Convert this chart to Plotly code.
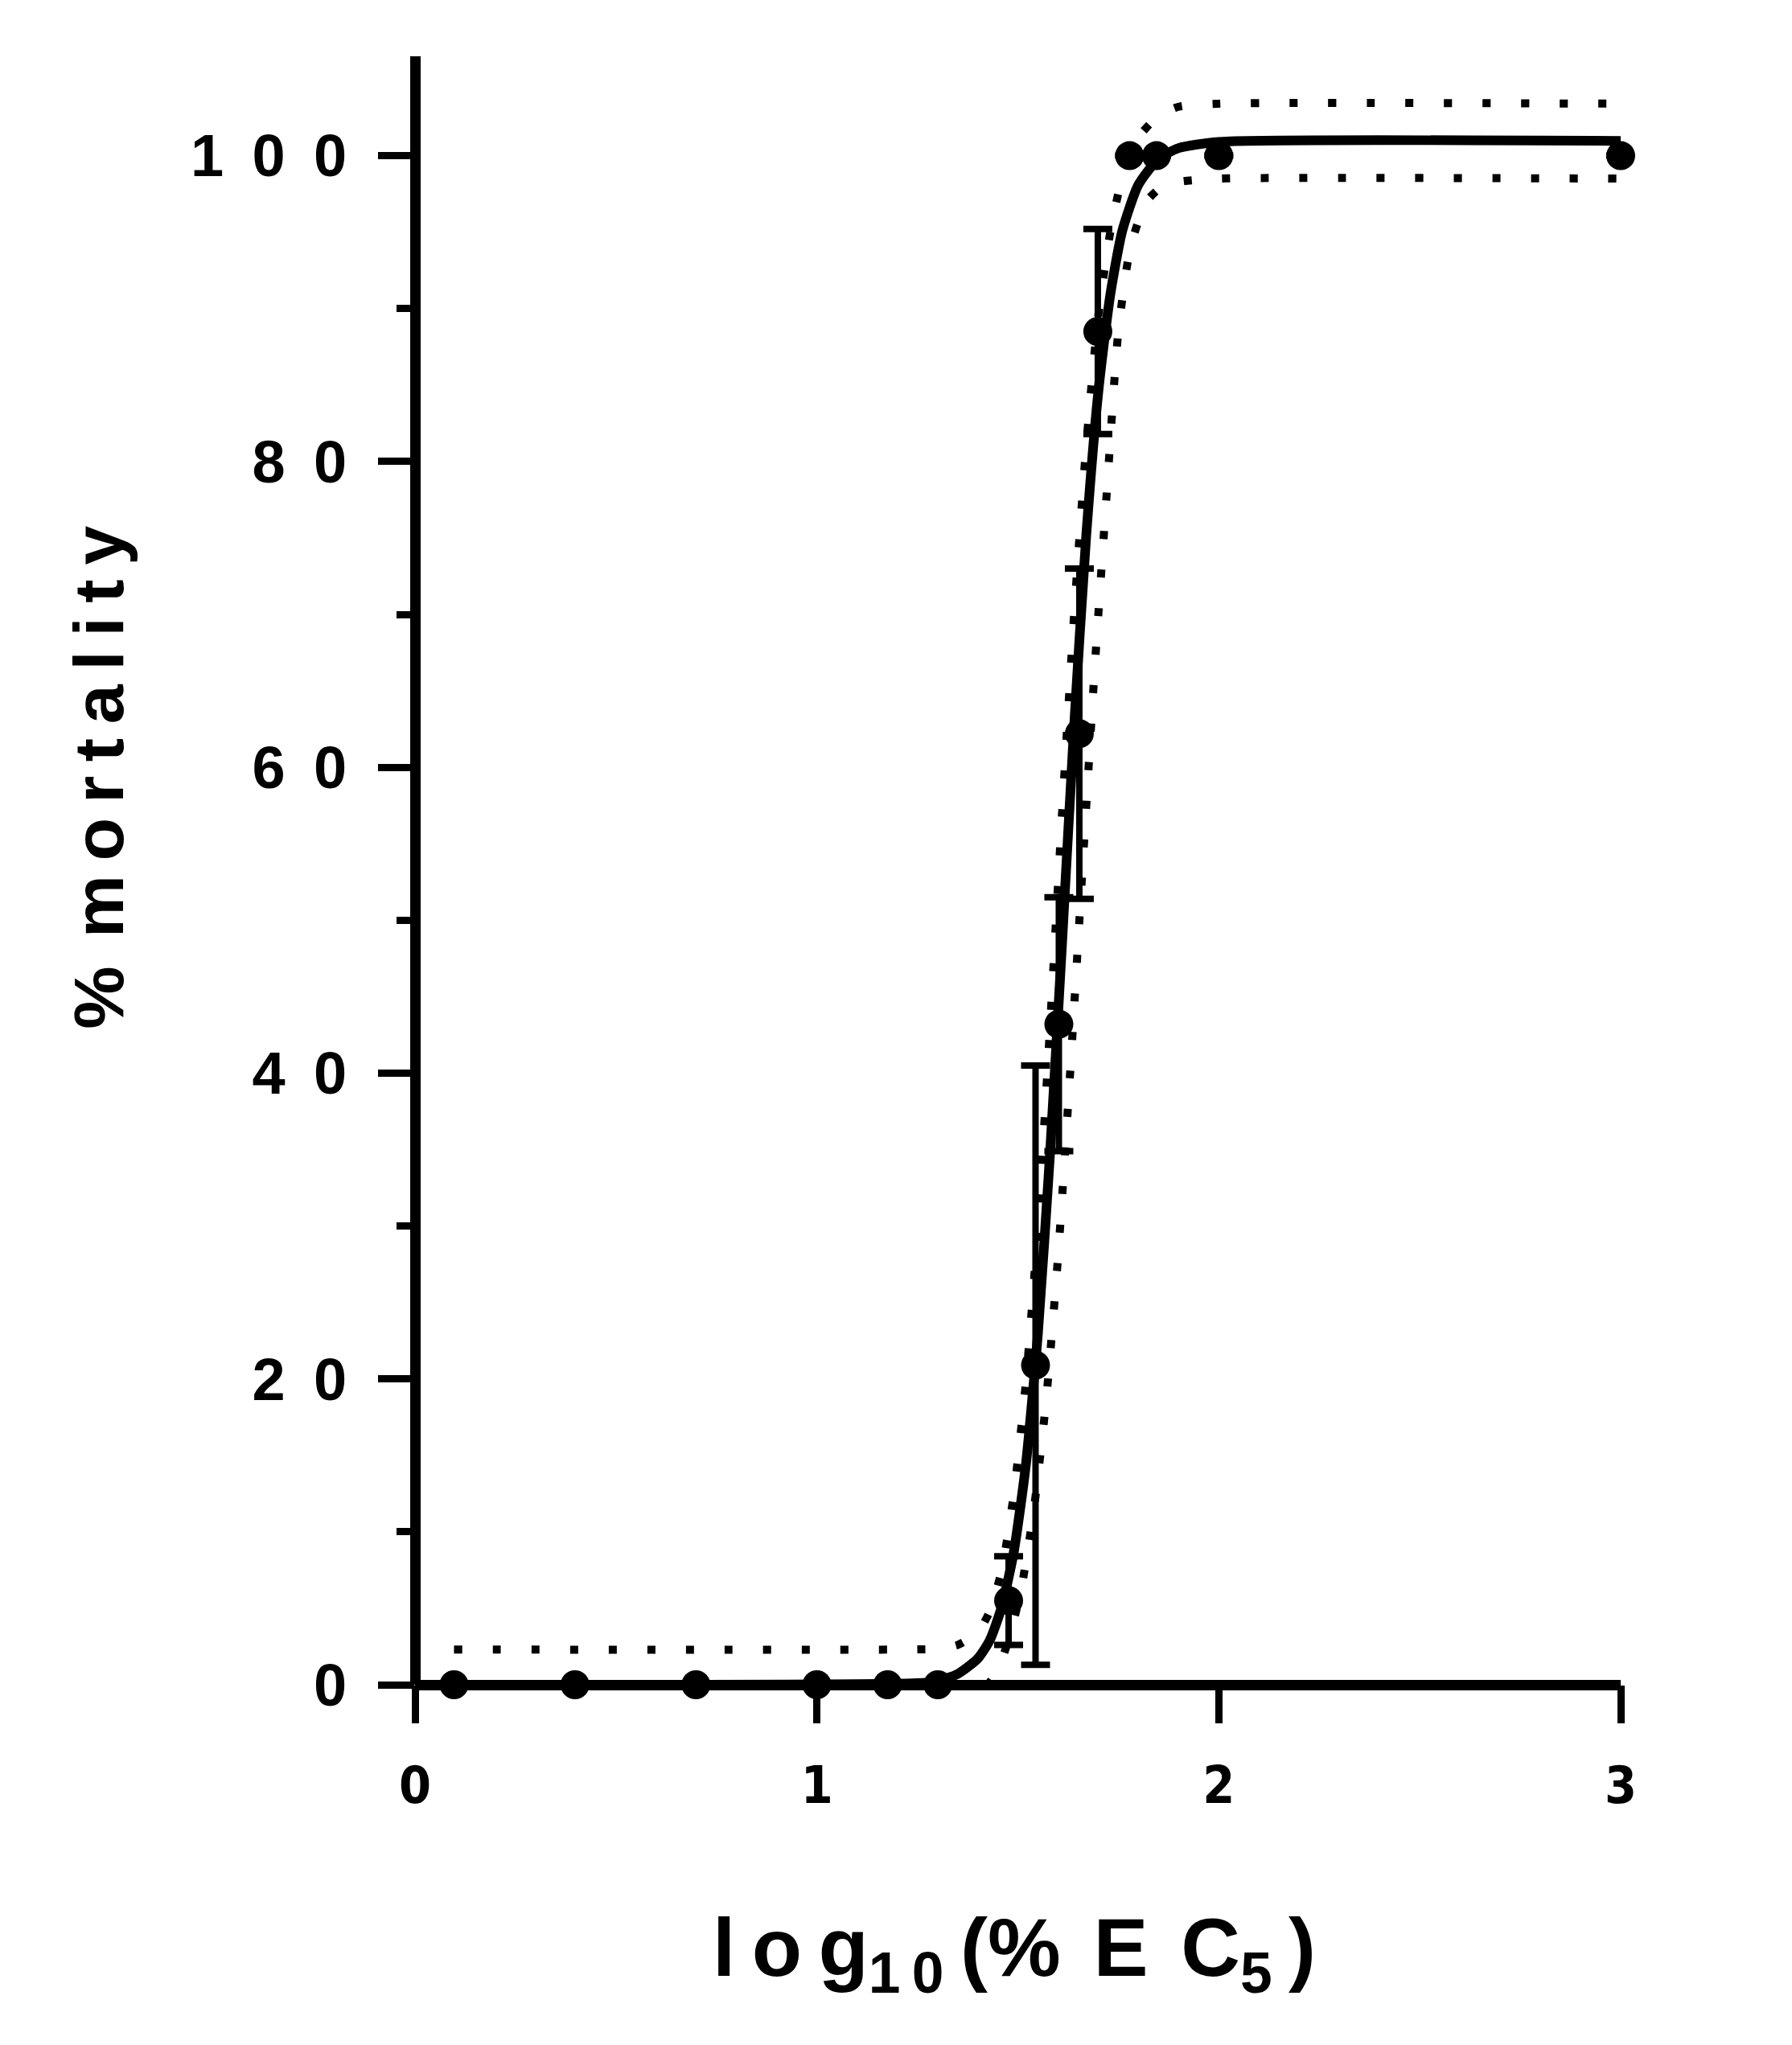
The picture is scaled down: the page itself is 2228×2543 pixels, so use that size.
import plotly.graph_objects as go

# Dose-response data, x = log10(% EC5), y = % mortality (mean +/- SD)
log_dose = [0.097, 0.398, 0.699, 1.0, 1.176, 1.301, 1.477, 1.544, 1.602, 1.653, 1.699, 1.778, 1.845, 2.0, 3.0]
mortality = [0, 0, 0, 0, 0, 0, 5.5, 20.9, 43.2, 62.2, 88.5, 100, 100, 100, 100]
mortality_err = [None, None, None, None, None, None, 2.9, 19.6, 8.3, 10.8, 6.7, None, None, None, None]

# fitted sigmoid
fit_x = [0.097, 1.25, 1.30, 1.35, 1.40, 1.43, 1.46, 1.49, 1.52, 1.55, 1.58, 1.61, 1.64,
         1.67, 1.70, 1.73, 1.76, 1.80, 1.85, 1.90, 2.0, 3.0]
fit_y = [0, 0.1, 0.25, 0.7, 1.7, 2.9, 5.1, 8.7, 14.4, 23.0, 34.7, 48.5, 62.7,
         75.1, 84.5, 90.9, 95.1, 98.1, 99.8, 100.5, 100.9, 100.96]

# 95% confidence band (dotted)
upper_x = [0.097, 1.20, 1.30, 1.35, 1.40, 1.43, 1.46, 1.49, 1.52, 1.55, 1.58, 1.61, 1.64,
           1.67, 1.70, 1.73, 1.76, 1.80, 1.85, 1.90, 2.0, 3.0]
upper_y = [2.3, 2.3, 2.35, 2.6, 3.4, 4.8, 7.5, 12.5, 19.8, 30.0, 43.0, 57.0, 70.0,
           81.0, 89.5, 95.0, 98.6, 101.2, 102.6, 103.2, 103.4, 103.4]
lower_x = [0.097, 1.30, 1.40, 1.45, 1.48, 1.51, 1.54, 1.57, 1.60, 1.63, 1.66, 1.69,
           1.72, 1.75, 1.78, 1.82, 1.86, 1.904, 2.0, 3.0]
lower_y = [-2.0, -1.8, -0.8, 1.0, 3.2, 6.5, 11.5, 18.5, 28.0, 40.0, 53.0, 66.0,
           77.5, 88.5, 94.0, 97.0, 98.0, 98.3, 98.5, 98.5]

x_tick_vals = [0, 1, 2, 3]
x_tick_text = ["0", "1", "2", "3"]
y_tick_vals = [0, 20, 40, 60, 80, 100]
y_tick_text = ["0", "2\u00a0\u20090", "4\u00a0\u20090", "6\u00a0\u20090", "8\u00a0\u20090",
               "1\u00a0\u20090\u00a0\u20090"]

FONT = "Liberation Sans, Arial, sans-serif"
NARROW = "DejaVu Sans Condensed, Liberation Sans Narrow, Arial Narrow, sans-serif"

fig = go.Figure()

band_style = dict(color="black", width=10, dash="10px,38px")
fig.add_trace(go.Scatter(x=upper_x, y=upper_y, mode="lines", line=dict(shape="spline", smoothing=0.6, **band_style)))
fig.add_trace(go.Scatter(x=lower_x, y=lower_y, mode="lines", line=dict(shape="spline", smoothing=0.6, **band_style)))

fig.add_trace(go.Scatter(
    x=fit_x, y=fit_y, mode="lines",
    line=dict(color="black", width=12, shape="spline", smoothing=0.6),
))

fig.add_trace(go.Scatter(
    x=log_dose, y=mortality, mode="markers",
    marker=dict(color="black", size=36),
    error_y=dict(type="data", array=mortality_err, color="black", thickness=8, width=18),
    cliponaxis=False,
))

axis_common = dict(
    showline=False, showgrid=False, zeroline=True, zerolinecolor="black", zerolinewidth=13,
    ticks="outside", tickcolor="black", tickwidth=9,
)

fig.update_xaxes(
    range=[0, 3], tickvals=x_tick_vals, ticktext=x_tick_text, ticklen=47,
    ticklabelstandoff=22,
    tickfont=dict(family=NARROW, size=64, color="black", weight="bold"),
    **axis_common,
)
fig.update_yaxes(
    range=[0, 106.5], tickvals=y_tick_vals, ticktext=y_tick_text, ticklen=45,
    ticklabelstandoff=24,
    tickfont=dict(family=FONT, size=74, color="black", weight="bold"),
    minor=dict(ticks="outside", ticklen=22, tickwidth=9, tickcolor="black", tick0=0, dtick=10),
    **axis_common,
)

fig.add_annotation(
    text="l\u2009o\u2009g<sub>1\u20090</sub>\u2009(%\u2009\u2009E\u2009\u2009C<sub>5</sub>\u2009)",
    xref="paper", yref="paper", x=0.497, y=-0.165, xanchor="center", yanchor="middle",
    showarrow=False, font=dict(family=FONT, size=102, color="black", weight="bold"),
)
fig.add_annotation(
    text="%\u2009\u2009m\u2009o\u2009r\u2009t\u2009a\u2009l\u2009i\u2009t\u2009y",
    xref="paper", yref="paper", x=-0.263, y=0.557, xanchor="center", yanchor="middle",
    textangle=-90, showarrow=False,
    font=dict(family=FONT, size=88, color="black", weight="bold"),
)

fig.update_layout(
    width=2228, height=2543, showlegend=False,
    margin=dict(l=508, r=221, t=62, b=456),
    paper_bgcolor="white", plot_bgcolor="white",
)

fig.write_html("out.html")
